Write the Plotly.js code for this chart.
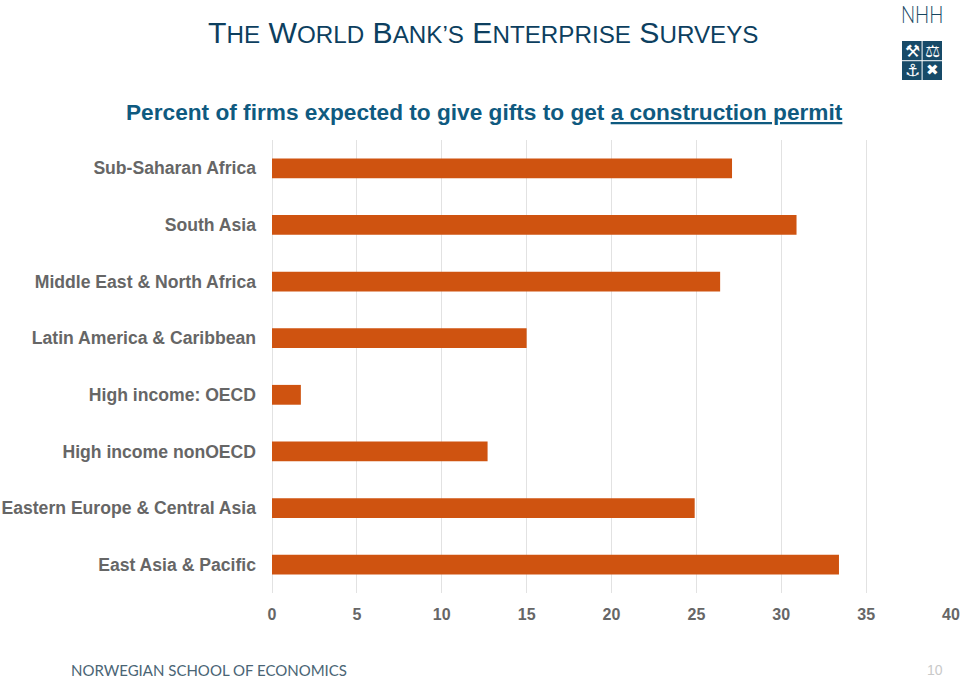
<!DOCTYPE html>
<html>
<head>
<meta charset="utf-8">
<script src="https://cdn.plot.ly/plotly-3.0.1.min.js"></script>
<style>html,body{margin:0;padding:0;background:#fff}</style>
</head>
<body>
<div id="chart" style="width:960px;height:678px"></div>
<script>
const categories = ["East Asia & Pacific","Eastern Europe & Central Asia","High income nonOECD","High income: OECD","Latin America & Caribbean","Middle East & North Africa","South Asia","Sub-Saharan Africa"];
const percentValues = [33.4,24.9,12.7,1.7,15.0,26.4,30.9,27.1];
const xTicks = [0,5,10,15,20,25,30,35,40];

const W = 960, H = 678;
function smallCaps(s){
  return s.split(" ").map(w => `<span style="font-size:30.2px">${w[0]}</span><span style="font-size:24.2px">${w.slice(1).toUpperCase()}</span>`).join(" ");
}
function note(text, x, y, size, color, extra){
  return Object.assign({text, xref:"paper", yref:"paper", x:x, y:y, xanchor:"center", yanchor:"middle",
    showarrow:false, align:"center", borderpad:0, font:{family:"Liberation Sans, Arial, sans-serif", size:size, color:color}}, extra||{});
}
const plotL=272, plotR=951, plotT=140, plotB=593;
const paperX = x => (x-plotL)/(plotR-plotL), paperY = y => (plotB-y)/(plotB-plotT);
const labelFont = {family:"Liberation Sans, Arial, sans-serif", size:17.6, color:"#666666", weight:"bold"};

const annotations = [
  note(smallCaps("The World Bank’s Enterprise Surveys"), paperX(483), paperY(33), 30.2, "#0d3f5f"),
  note('<b>Percent of firms expected to give gifts to get <u>a construction permit</u></b>', paperX(484), paperY(112), 22.66, "#0f5a80"),
  note("NORWEGIAN SCHOOL OF ECONOMICS", paperX(208.5), paperY(670), 15, "#4a6575", {font:{family:"Lato, sans-serif",size:15,color:"#4a6575"}}),
  note("10", paperX(935), paperY(670), 14, "#c9c9c9"),
  note("NHH", paperX(922), paperY(14), 24, "#17465f", {font:{family:"Lato, sans-serif",size:24,color:"#17465f",weight:300}}),
  note("⚒", paperX(912), paperY(51), 17, "#ffffff", {font:{family:"DejaVu Sans",size:17,color:"#ffffff"}}),
  note("⚖", paperX(932), paperY(51), 17, "#ffffff", {font:{family:"DejaVu Sans",size:17,color:"#ffffff"}}),
  note("⚓", paperX(912), paperY(70), 17, "#ffffff", {font:{family:"DejaVu Sans",size:17,color:"#ffffff"}}),
  note("✖", paperX(932), paperY(70), 15, "#ffffff", {font:{family:"DejaVu Sans",size:15,color:"#ffffff"}})
];
const shapes = [
  {type:"rect", xref:"paper", yref:"paper", x0:paperX(902), x1:paperX(921.6), y0:paperY(41), y1:paperY(60.2), fillcolor:"#174a68", line:{width:0}},
  {type:"rect", xref:"paper", yref:"paper", x0:paperX(922.6), x1:paperX(942), y0:paperY(41), y1:paperY(60.2), fillcolor:"#174a68", line:{width:0}},
  {type:"rect", xref:"paper", yref:"paper", x0:paperX(902), x1:paperX(921.6), y0:paperY(61.2), y1:paperY(80), fillcolor:"#174a68", line:{width:0}},
  {type:"rect", xref:"paper", yref:"paper", x0:paperX(922.6), x1:paperX(942), y0:paperY(61.2), y1:paperY(80), fillcolor:"#174a68", line:{width:0}}
];

Plotly.newPlot("chart", [{
  type:"bar", orientation:"h", y:categories, x:percentValues, width:0.35,
  marker:{color:"#cf5310", line:{width:0}}, hoverinfo:"x+y"
}], {
  width:W, height:H, showlegend:false, paper_bgcolor:"#fff", plot_bgcolor:"#fff",
  margin:{l:plotL, r:W-plotR, t:plotT, b:H-plotB, pad:0},
  font:{family:"Liberation Sans, Arial, sans-serif"},
  xaxis:{range:[0,40], tickvals:xTicks, ticktext:xTicks.map(String), showgrid:true, gridcolor:"#e2e2e2", gridwidth:1,
    zeroline:true, zerolinecolor:"#e2e2e2", zerolinewidth:1, showline:false, ticks:"", ticklabelstandoff:10,
    tickfont:{family:"Liberation Sans, Arial, sans-serif", size:16, color:"#666666", weight:"bold"}, automargin:false},
  yaxis:{type:"category", categoryorder:"array", categoryarray:categories, range:[-0.5,7.5], showgrid:false, zeroline:false, showline:false,
    ticks:"", ticklabelstandoff:15, tickfont:labelFont, automargin:false},
  annotations, shapes
}, {displayModeBar:false, staticPlot:true}).then(gd => {
  // the logotype is set in a condensed face: narrow the real text to match
  gd.querySelectorAll(".annotation-text").forEach(t => {
    if (t.textContent === "NHH") {
      const b = t.getBBox(), cx = b.x + b.width / 2;
      t.setAttribute("transform", `translate(${cx},0) scale(0.78,1) translate(${-cx},0)`);
    }
  });
});
</script>
</body>
</html>
